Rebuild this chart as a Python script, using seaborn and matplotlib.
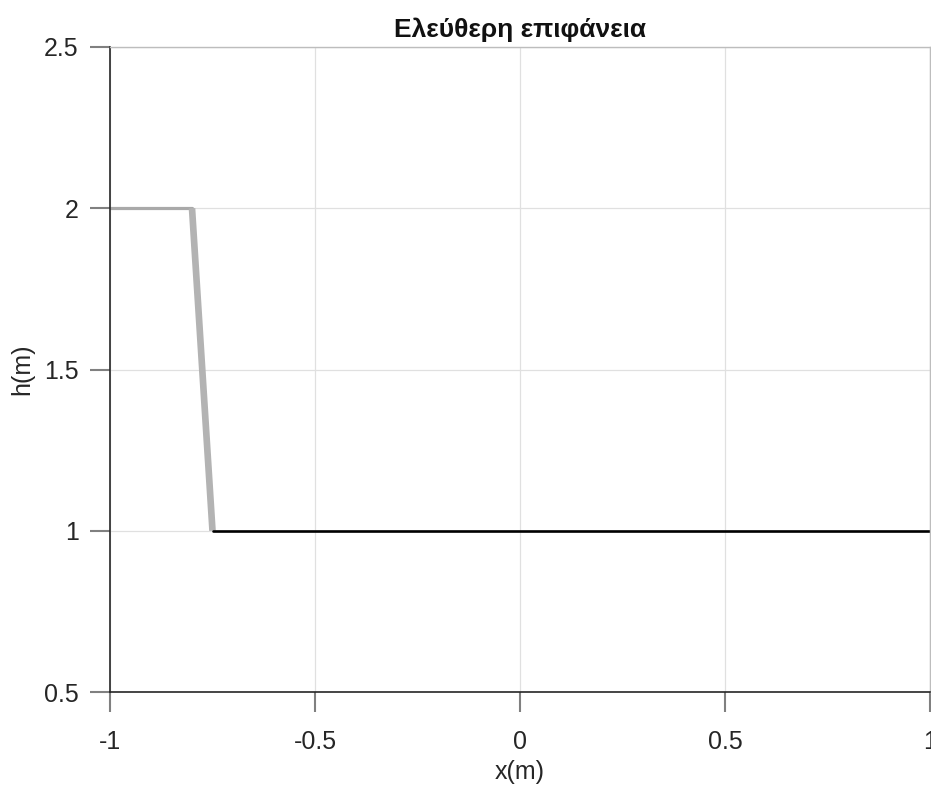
import matplotlib
matplotlib.use("Agg")
import matplotlib.pyplot as plt
import seaborn as sns
import pandas as pd

# data
x_plateau = [-1.0, -0.8]
h_plateau = [2.0, 2.0]
x_front = [-0.8, -0.75]
h_front = [2.0, 1.0]
x_downstream = [-0.75, 1.0]
h_downstream = [1.0, 1.0]
x_ticks = [-1, -0.5, 0, 0.5, 1]
x_tick_labels = ["-1", "-0.5", "0", "0.5", "1"]
y_ticks = [0.5, 1, 1.5, 2, 2.5]
y_tick_labels = ["0.5", "1", "1.5", "2", "2.5"]
title = "Ελεύθερη επιφάνεια"
xlabel = "x(m)"
ylabel = "h(m)"

sns.set_theme(style="white")
plt.rcParams['font.family'] = ['Liberation Sans', 'DejaVu Sans']

fig = plt.figure(figsize=(9.31, 7.85), dpi=100)
ax = fig.add_axes([110/931, 1-692/785, 820/931, 645/785])

df1 = pd.DataFrame({"x": x_plateau, "h": h_plateau})
df2 = pd.DataFrame({"x": x_front, "h": h_front})
df3 = pd.DataFrame({"x": x_downstream, "h": h_downstream})
sns.lineplot(data=df1, x="x", y="h", ax=ax, color="#a9a9a9", linewidth=2.3, sort=False)
sns.lineplot(data=df2, x="x", y="h", ax=ax, color="#b3b3b3", linewidth=4.8, sort=False,
             solid_capstyle="butt")
sns.lineplot(data=df3, x="x", y="h", ax=ax, color="black", linewidth=1.9, sort=False)

ax.set_xlim(-1, 1)
ax.set_ylim(0.5, 2.5)
ax.set_xticks(x_ticks)
ax.set_xticklabels(x_tick_labels)
ax.set_yticks(y_ticks)
ax.set_yticklabels(y_tick_labels)
ax.grid(True, color="#e0e0e0", linewidth=0.9)
ax.set_axisbelow(True)
ax.tick_params(direction="out", length=14.5, width=1.5, color="#808080",
               labelsize=18, labelcolor="#262626", left=True, bottom=True)
ax.tick_params(axis="x", pad=13)
ax.tick_params(axis="y", pad=8)
for s in ["left", "bottom"]:
    ax.spines[s].set_color("#262626")
    ax.spines[s].set_linewidth(1.2)
for s in ["top", "right"]:
    ax.spines[s].set_color("#bdbdbd")
    ax.spines[s].set_linewidth(1.0)

ax.set_title(title, fontsize=19, fontweight="bold", color="#111111", pad=7)
ax.set_xlabel(xlabel, fontsize=18, color="#262626", labelpad=4)
ax.set_ylabel(ylabel, fontsize=18, color="#262626", labelpad=7)

fig.savefig("out.png", dpi=100, facecolor="white")
